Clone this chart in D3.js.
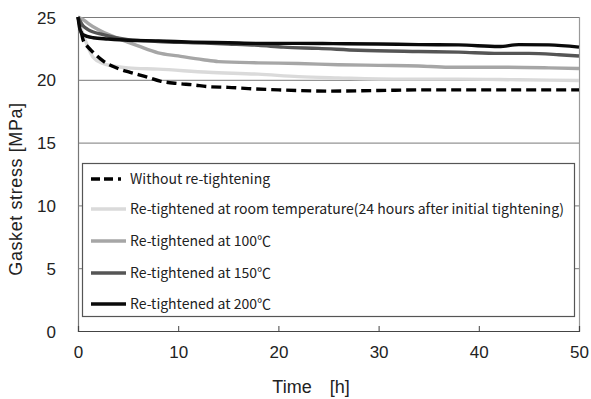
<!DOCTYPE html>
<html>
<head>
<meta charset="utf-8">
<script src="https://cdn.jsdelivr.net/npm/d3@7"></script>
<style>
  body { margin: 0; background: #fff; }
  svg { display: block; }
  .tick-text { font-family: "Liberation Sans", Arial, sans-serif; font-size: 17px; fill: #222; }
  .axis-title { font-family: "Liberation Sans", Arial, "Noto Sans CJK JP", sans-serif; font-size: 18px; fill: #222; }
  .legend-text { font-family: "Noto Sans CJK JP", "Noto Sans", sans-serif; font-size: 14px; fill: #222; }
</style>
</head>
<body>
<svg id="chart" width="591" height="399"></svg>
<script>
// hours after tightening
const tWithout = [0, 0.3, 0.5, 1, 1.5, 2.5, 4, 5.2, 7, 8.2, 10, 11.5, 13, 15, 17, 20, 25, 30, 35, 40, 45, 50]
const vWithout = [25, 23.9, 23.2, 22.6, 22.2, 21.5, 20.9, 20.6, 20.2, 19.9, 19.7, 19.6, 19.45, 19.4, 19.3, 19.2, 19.1, 19.15, 19.2, 19.2, 19.2, 19.2]

const tRoom = [0, 0.3, 0.8, 1.5, 2.5, 3.5, 5, 8, 13, 18, 22, 26, 32, 38, 44, 50]
const vRoom = [25, 24.1, 23, 21.8, 21.3, 21.1, 20.95, 20.85, 20.6, 20.45, 20.25, 20.15, 20.05, 20.05, 20.0, 19.95]

const t100 = [0, 0.5, 1, 2, 4, 6, 8, 10, 12.5, 14, 18, 22, 26, 30, 34, 37, 42, 47, 50]
const v100 = [25, 24.8, 24.5, 24.0, 23.3, 22.7, 22.15, 21.9, 21.6, 21.45, 21.35, 21.3, 21.2, 21.15, 21.1, 21.0, 21.0, 20.95, 20.9]

const t150 = [0, 0.5, 1, 2.5, 5, 8, 11.5, 15, 18, 20.5, 24, 28, 34, 38, 42, 45, 48, 50]
const v150 = [25, 24.3, 24.0, 23.6, 23.2, 23.05, 22.95, 22.85, 22.75, 22.6, 22.5, 22.35, 22.25, 22.2, 22.1, 22.1, 22.0, 21.9]

const t200 = [0, 0.2, 0.5, 1.5, 3, 5, 8, 11.5, 15, 18, 22, 25.5, 30, 34, 38, 42, 44, 47, 50]
const v200 = [25, 24.0, 23.6, 23.35, 23.25, 23.15, 23.1, 23.0, 22.95, 22.9, 22.9, 22.88, 22.85, 22.8, 22.78, 22.65, 22.8, 22.78, 22.6]

const seriesNames = [
  'Without re-tightening',
  'Re-tightened at room temperature(24 hours after initial tightening)',
  'Re-tightened at 100℃',
  'Re-tightened at 150℃',
  'Re-tightened at 200℃'
]
const seriesColors = ['#000000', '#dadada', '#a6a6a6', '#555555', '#0a0a0a']
const xTicks = [0, 10, 20, 30, 40, 50]
const yTicks = [0, 5, 10, 15, 20, 25]

const MARGIN = { top: 17, left: 78, right: 12, bottom: 68 }
const WIDTH = 591
const HEIGHT = 399
const width = WIDTH - MARGIN.left - MARGIN.right
const height = HEIGHT - MARGIN.top - MARGIN.bottom

const xScale = d3.scaleLinear().domain([0, 50]).range([0, width])
const yScale = d3.scaleLinear().domain([0, 25]).range([height, 0])

const svg = d3.select('#chart')
const canvas = svg.append('g')
  .attr('transform', `translate(${MARGIN.left}, ${MARGIN.top})`)

// frame top / right
canvas.append('path')
  .attr('d', `M0,0.5H${width + 0.5}V${height}`)
  .attr('fill', 'none')
  .attr('stroke', '#9a9a9a')
  .attr('stroke-width', 1.2)

// y axis with gridlines
const yg = canvas.append('g').classed('y-axis', true)
yg.call(d3.axisLeft(yScale).tickValues(yTicks).tickSize(-width).tickPadding(22))
yg.selectAll('.tick line')
  .attr('stroke', '#7a7a7a')
  .attr('stroke-width', 1)
yg.selectAll('.tick text')
  .attr('class', 'tick-text')
  .attr('dy', '0.36em')
yg.select('.domain')
  .attr('stroke', '#777')
  .attr('stroke-width', 1.2)

// x axis
const xg = canvas.append('g').classed('x-axis', true)
  .attr('transform', `translate(0, ${height})`)
xg.call(d3.axisBottom(xScale).tickValues(xTicks).tickSize(-5).tickPadding(15))
xg.selectAll('.tick line').attr('stroke', '#444')
xg.selectAll('.tick text').attr('class', 'tick-text')
xg.select('.domain').attr('stroke', '#444').attr('stroke-width', 1.2)

// series
const allSeries = [
  { t: tWithout, v: vWithout },
  { t: tRoom, v: vRoom },
  { t: t100, v: v100 },
  { t: t150, v: v150 },
  { t: t200, v: v200 }
]
const lineGenerator = d3.line()
  .x(d => xScale(d[0]))
  .y(d => yScale(d[1]))
  .curve(d3.curveMonotoneX)

const drawOrder = [1, 2, 0, 3, 4]
drawOrder.forEach(i => {
  const s = allSeries[i]
  const pts = s.t.map((t, k) => [t, s.v[k]])
  canvas.append('path')
    .attr('d', lineGenerator(pts))
    .attr('fill', 'none')
    .attr('stroke', seriesColors[i])
    .attr('stroke-width', 3.4)
    .attr('stroke-dasharray', i === 0 ? '10,5' : null)
})

// legend
const legend = svg.append('g').classed('legend', true)
legend.append('rect')
  .attr('x', 82.5)
  .attr('y', 163.5)
  .attr('width', 492)
  .attr('height', 153)
  .attr('fill', '#fff')
  .attr('stroke', '#555')
  .attr('stroke-width', 1.2)

const rowY = [179, 209, 241, 273, 304]
seriesNames.forEach((name, i) => {
  const row = legend.append('g').attr('transform', `translate(0, ${rowY[i]})`)
  row.append('line')
    .attr('x1', 91).attr('x2', 126)
    .attr('stroke', seriesColors[i])
    .attr('stroke-width', 3.4)
    .attr('stroke-dasharray', i === 0 ? '9,4,9,5,3,10' : null)
  row.append('text')
    .attr('class', 'legend-text')
    .attr('x', 130)
    .attr('dy', '0.35em')
    .text(name)
})

// axis titles
svg.append('text')
  .attr('class', 'axis-title')
  .attr('text-anchor', 'middle')
  .attr('letter-spacing', '0.6px')
  .attr('transform', `translate(16, 189) rotate(-90)`)
  .attr('dy', '0.35em')
  .text('Gasket stress [MPa]')

svg.append('text')
  .attr('class', 'axis-title')
  .attr('text-anchor', 'middle')
  .attr('x', 311)
  .attr('y', 393)
  .text('Time\u3000[h]')
</script>
</body>
</html>
